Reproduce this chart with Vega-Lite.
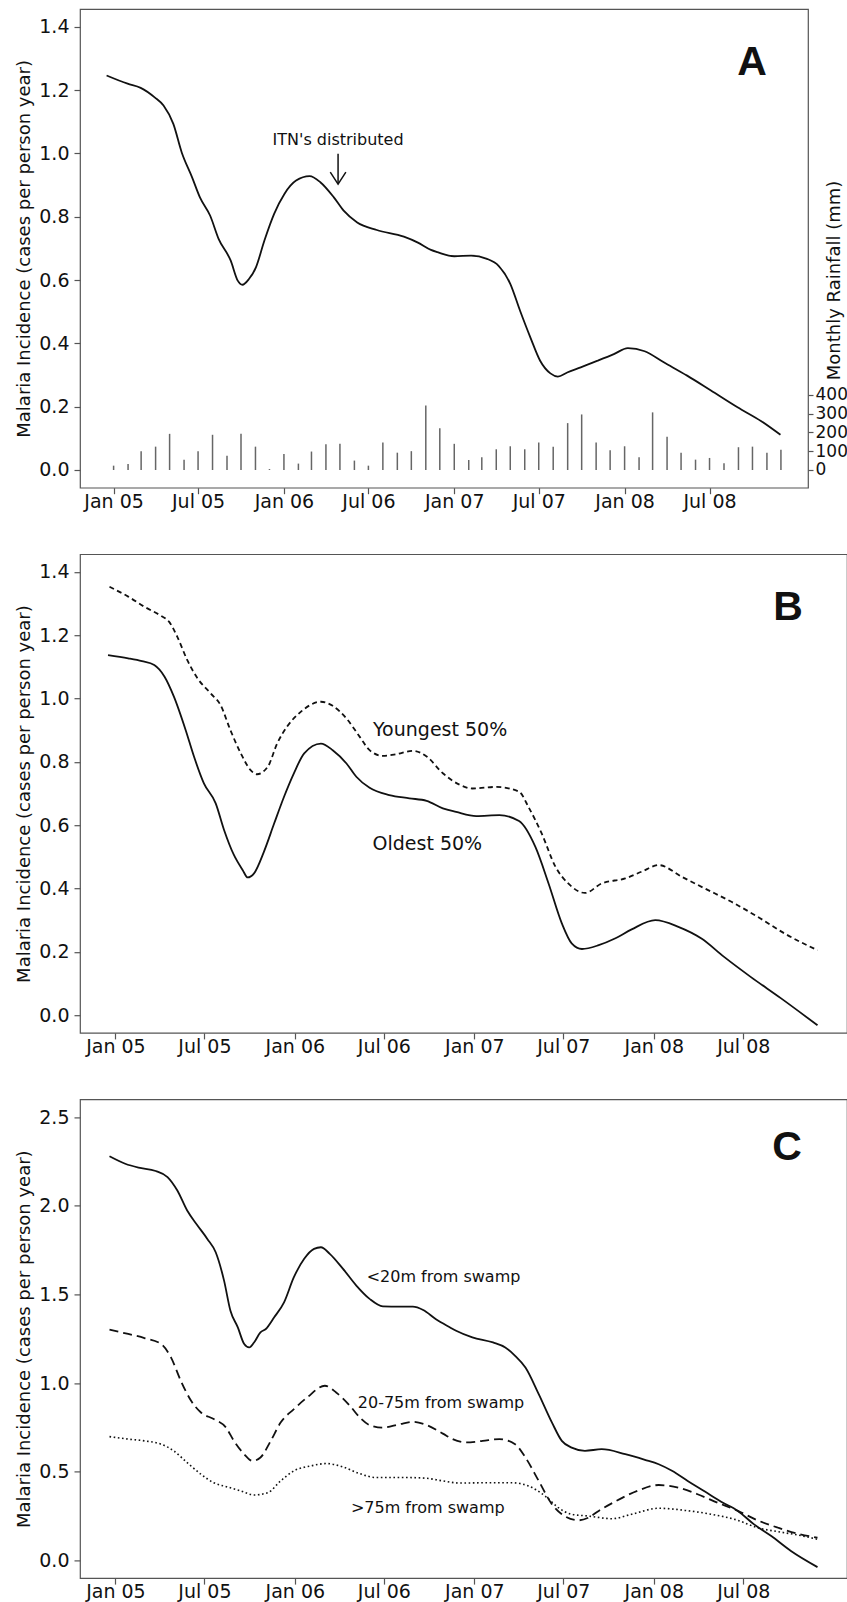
{
  "$schema": "https://vega.github.io/schema/vega-lite/v6.json",
  "padding": {"top": 8, "left": 14, "right": 0, "bottom": 0},
  "background": "white",
  "config": {
    "view": {"stroke": "#555", "strokeWidth": 1.2},
    "axis": {"labelFont": "DejaVu Sans", "titleFont": "DejaVu Sans", "labelColor": "#111", "titleColor": "#111", "titleFontWeight": "normal", "tickColor": "#555", "tickWidth": 1.2, "domain": false, "grid": false},
    "text": {"font": "DejaVu Sans", "color": "#111"}
  },
  "datasets": {
    "rain": [
      {"date":"2005-01-01","mm":23},{"date":"2005-02-01","mm":32},{"date":"2005-03-01","mm":100},{"date":"2005-04-01","mm":124},{"date":"2005-05-01","mm":192},{"date":"2005-06-01","mm":55},{"date":"2005-07-01","mm":100},{"date":"2005-08-01","mm":187},{"date":"2005-09-01","mm":76},{"date":"2005-10-01","mm":192},{"date":"2005-11-01","mm":124},{"date":"2005-12-01","mm":5},
      {"date":"2006-01-01","mm":85},{"date":"2006-02-01","mm":34},{"date":"2006-03-01","mm":98},{"date":"2006-04-01","mm":137},{"date":"2006-05-01","mm":139},{"date":"2006-06-01","mm":50},{"date":"2006-07-01","mm":23},{"date":"2006-08-01","mm":146},{"date":"2006-09-01","mm":92},{"date":"2006-10-01","mm":100},{"date":"2006-11-01","mm":343},{"date":"2006-12-01","mm":222},
      {"date":"2007-01-01","mm":139},{"date":"2007-02-01","mm":53},{"date":"2007-03-01","mm":68},{"date":"2007-04-01","mm":110},{"date":"2007-05-01","mm":126},{"date":"2007-06-01","mm":110},{"date":"2007-07-01","mm":146},{"date":"2007-08-01","mm":124},{"date":"2007-09-01","mm":249},{"date":"2007-10-01","mm":295},{"date":"2007-11-01","mm":146},{"date":"2007-12-01","mm":105},
      {"date":"2008-01-01","mm":126},{"date":"2008-02-01","mm":68},{"date":"2008-03-01","mm":306},{"date":"2008-04-01","mm":176},{"date":"2008-05-01","mm":92},{"date":"2008-06-01","mm":55},{"date":"2008-07-01","mm":64},{"date":"2008-08-01","mm":36},{"date":"2008-09-01","mm":121},{"date":"2008-10-01","mm":124},{"date":"2008-11-01","mm":92},{"date":"2008-12-01","mm":107}
    ],
    "incA": [
      {"date":"2004-12-17","v":1.246},{"date":"2005-01-31","v":1.22},{"date":"2005-02-28","v":1.207},{"date":"2005-03-30","v":1.177},{"date":"2005-04-18","v":1.151},{"date":"2005-05-09","v":1.093},{"date":"2005-05-27","v":1.003},{"date":"2005-06-18","v":0.925},{"date":"2005-07-05","v":0.861},{"date":"2005-07-27","v":0.803},{"date":"2005-08-14","v":0.73},{"date":"2005-09-09","v":0.661},{"date":"2005-09-24","v":0.598},{"date":"2005-10-04","v":0.585},{"date":"2005-10-18","v":0.603},{"date":"2005-11-02","v":0.64},{"date":"2005-11-20","v":0.724},{"date":"2005-12-11","v":0.809},{"date":"2006-01-02","v":0.872},{"date":"2006-01-27","v":0.914},{"date":"2006-02-25","v":0.928},{"date":"2006-03-20","v":0.909},{"date":"2006-04-18","v":0.861},{"date":"2006-05-09","v":0.819},{"date":"2006-06-07","v":0.782},{"date":"2006-07-19","v":0.758},{"date":"2006-09-15","v":0.737},{"date":"2006-10-14","v":0.719},{"date":"2006-11-12","v":0.695},{"date":"2006-11-26","v":0.688},{"date":"2007-01-01","v":0.675},{"date":"2007-02-06","v":0.677},{"date":"2007-03-12","v":0.667},{"date":"2007-04-06","v":0.645},{"date":"2007-05-01","v":0.588},{"date":"2007-05-22","v":0.503},{"date":"2007-06-13","v":0.419},{"date":"2007-07-04","v":0.345},{"date":"2007-07-26","v":0.305},{"date":"2007-08-11","v":0.295},{"date":"2007-08-31","v":0.308},{"date":"2007-09-29","v":0.324},{"date":"2007-11-04","v":0.345},{"date":"2007-12-09","v":0.366},{"date":"2008-01-08","v":0.385},{"date":"2008-02-13","v":0.375},{"date":"2008-03-25","v":0.34},{"date":"2008-05-14","v":0.298},{"date":"2008-07-04","v":0.251},{"date":"2008-08-30","v":0.198},{"date":"2008-10-20","v":0.154},{"date":"2008-11-30","v":0.111}
    ],
    "incB": [
      {"g":"Oldest","date":"2004-12-17","v":1.137},{"g":"Oldest","date":"2005-01-27","v":1.127},{"g":"Oldest","date":"2005-02-24","v":1.118},{"g":"Oldest","date":"2005-03-21","v":1.106},{"g":"Oldest","date":"2005-04-11","v":1.069},{"g":"Oldest","date":"2005-04-30","v":1.006},{"g":"Oldest","date":"2005-05-24","v":0.9},{"g":"Oldest","date":"2005-06-10","v":0.816},{"g":"Oldest","date":"2005-06-30","v":0.732},{"g":"Oldest","date":"2005-07-24","v":0.669},{"g":"Oldest","date":"2005-08-10","v":0.585},{"g":"Oldest","date":"2005-08-30","v":0.506},{"g":"Oldest","date":"2005-09-17","v":0.458},{"g":"Oldest","date":"2005-09-27","v":0.435},{"g":"Oldest","date":"2005-10-10","v":0.448},{"g":"Oldest","date":"2005-10-30","v":0.516},{"g":"Oldest","date":"2005-11-20","v":0.606},{"g":"Oldest","date":"2005-12-10","v":0.69},{"g":"Oldest","date":"2005-12-30","v":0.764},{"g":"Oldest","date":"2006-01-20","v":0.827},{"g":"Oldest","date":"2006-02-23","v":0.858},{"g":"Oldest","date":"2006-03-19","v":0.837},{"g":"Oldest","date":"2006-04-16","v":0.795},{"g":"Oldest","date":"2006-05-06","v":0.753},{"g":"Oldest","date":"2006-06-02","v":0.718},{"g":"Oldest","date":"2006-07-12","v":0.695},{"g":"Oldest","date":"2006-08-22","v":0.685},{"g":"Oldest","date":"2006-09-26","v":0.677},{"g":"Oldest","date":"2006-10-29","v":0.653},{"g":"Oldest","date":"2006-11-25","v":0.642},{"g":"Oldest","date":"2007-01-05","v":0.629},{"g":"Oldest","date":"2007-02-21","v":0.632},{"g":"Oldest","date":"2007-04-02","v":0.613},{"g":"Oldest","date":"2007-05-05","v":0.532},{"g":"Oldest","date":"2007-06-01","v":0.416},{"g":"Oldest","date":"2007-06-28","v":0.29},{"g":"Oldest","date":"2007-07-18","v":0.227},{"g":"Oldest","date":"2007-08-08","v":0.209},{"g":"Oldest","date":"2007-09-11","v":0.221},{"g":"Oldest","date":"2007-10-14","v":0.242},{"g":"Oldest","date":"2007-11-17","v":0.271},{"g":"Oldest","date":"2008-01-04","v":0.3},{"g":"Oldest","date":"2008-02-20","v":0.279},{"g":"Oldest","date":"2008-04-07","v":0.242},{"g":"Oldest","date":"2008-05-23","v":0.184},{"g":"Oldest","date":"2008-07-16","v":0.121},{"g":"Oldest","date":"2008-09-16","v":0.053},{"g":"Oldest","date":"2008-11-29","v":-0.032},
      {"g":"Youngest","date":"2004-12-20","v":1.353},{"g":"Youngest","date":"2005-01-27","v":1.322},{"g":"Youngest","date":"2005-03-01","v":1.29},{"g":"Youngest","date":"2005-04-04","v":1.261},{"g":"Youngest","date":"2005-04-20","v":1.243},{"g":"Youngest","date":"2005-05-07","v":1.195},{"g":"Youngest","date":"2005-05-27","v":1.122},{"g":"Youngest","date":"2005-06-17","v":1.064},{"g":"Youngest","date":"2005-07-14","v":1.016},{"g":"Youngest","date":"2005-08-03","v":0.979},{"g":"Youngest","date":"2005-08-23","v":0.9},{"g":"Youngest","date":"2005-09-13","v":0.827},{"g":"Youngest","date":"2005-10-03","v":0.774},{"g":"Youngest","date":"2005-10-16","v":0.761},{"g":"Youngest","date":"2005-11-07","v":0.785},{"g":"Youngest","date":"2005-11-26","v":0.858},{"g":"Youngest","date":"2005-12-16","v":0.911},{"g":"Youngest","date":"2006-01-13","v":0.958},{"g":"Youngest","date":"2006-02-23","v":0.99},{"g":"Youngest","date":"2006-03-19","v":0.977},{"g":"Youngest","date":"2006-04-16","v":0.937},{"g":"Youngest","date":"2006-05-13","v":0.879},{"g":"Youngest","date":"2006-06-02","v":0.837},{"g":"Youngest","date":"2006-06-29","v":0.819},{"g":"Youngest","date":"2006-07-26","v":0.824},{"g":"Youngest","date":"2006-08-29","v":0.835},{"g":"Youngest","date":"2006-09-26","v":0.817},{"g":"Youngest","date":"2006-10-29","v":0.764},{"g":"Youngest","date":"2006-12-02","v":0.728},{"g":"Youngest","date":"2006-12-28","v":0.716},{"g":"Youngest","date":"2007-02-15","v":0.721},{"g":"Youngest","date":"2007-04-02","v":0.706},{"g":"Youngest","date":"2007-04-21","v":0.658},{"g":"Youngest","date":"2007-05-18","v":0.574},{"g":"Youngest","date":"2007-06-15","v":0.469},{"g":"Youngest","date":"2007-07-11","v":0.416},{"g":"Youngest","date":"2007-08-14","v":0.386},{"g":"Youngest","date":"2007-09-17","v":0.416},{"g":"Youngest","date":"2007-11-04","v":0.432},{"g":"Youngest","date":"2007-12-07","v":0.453},{"g":"Youngest","date":"2008-01-11","v":0.474},{"g":"Youngest","date":"2008-02-27","v":0.437},{"g":"Youngest","date":"2008-04-14","v":0.4},{"g":"Youngest","date":"2008-06-07","v":0.358},{"g":"Youngest","date":"2008-07-30","v":0.311},{"g":"Youngest","date":"2008-09-23","v":0.258},{"g":"Youngest","date":"2008-11-29","v":0.205}
    ],
    "incC": [
      {"g":"near","date":"2004-12-20","v":2.279},{"g":"near","date":"2005-01-21","v":2.237},{"g":"near","date":"2005-02-17","v":2.215},{"g":"near","date":"2005-03-24","v":2.196},{"g":"near","date":"2005-04-17","v":2.162},{"g":"near","date":"2005-05-07","v":2.086},{"g":"near","date":"2005-05-27","v":1.973},{"g":"near","date":"2005-06-17","v":1.889},{"g":"near","date":"2005-07-07","v":1.813},{"g":"near","date":"2005-07-24","v":1.738},{"g":"near","date":"2005-08-10","v":1.578},{"g":"near","date":"2005-08-23","v":1.408},{"g":"near","date":"2005-09-07","v":1.314},{"g":"near","date":"2005-09-20","v":1.22},{"g":"near","date":"2005-09-30","v":1.201},{"g":"near","date":"2005-10-10","v":1.229},{"g":"near","date":"2005-10-23","v":1.286},{"g":"near","date":"2005-11-03","v":1.305},{"g":"near","date":"2005-11-20","v":1.371},{"g":"near","date":"2005-12-10","v":1.455},{"g":"near","date":"2005-12-30","v":1.597},{"g":"near","date":"2006-01-20","v":1.701},{"g":"near","date":"2006-02-09","v":1.757},{"g":"near","date":"2006-02-23","v":1.766},{"g":"near","date":"2006-03-13","v":1.729},{"g":"near","date":"2006-04-09","v":1.644},{"g":"near","date":"2006-05-06","v":1.55},{"g":"near","date":"2006-06-02","v":1.475},{"g":"near","date":"2006-06-29","v":1.433},{"g":"near","date":"2006-08-02","v":1.431},{"g":"near","date":"2006-08-29","v":1.431},{"g":"near","date":"2006-09-19","v":1.412},{"g":"near","date":"2006-10-15","v":1.36},{"g":"near","date":"2006-11-12","v":1.315},{"g":"near","date":"2006-11-25","v":1.295},{"g":"near","date":"2006-12-28","v":1.258},{"g":"near","date":"2007-02-08","v":1.229},{"g":"near","date":"2007-03-05","v":1.201},{"g":"near","date":"2007-03-25","v":1.154},{"g":"near","date":"2007-04-15","v":1.088},{"g":"near","date":"2007-05-12","v":0.938},{"g":"near","date":"2007-06-08","v":0.777},{"g":"near","date":"2007-06-28","v":0.674},{"g":"near","date":"2007-07-18","v":0.636},{"g":"near","date":"2007-08-14","v":0.618},{"g":"near","date":"2007-09-17","v":0.627},{"g":"near","date":"2007-11-04","v":0.599},{"g":"near","date":"2007-12-14","v":0.567},{"g":"near","date":"2008-01-11","v":0.542},{"g":"near","date":"2008-02-07","v":0.505},{"g":"near","date":"2008-03-10","v":0.448},{"g":"near","date":"2008-04-14","v":0.388},{"g":"near","date":"2008-05-17","v":0.331},{"g":"near","date":"2008-06-20","v":0.279},{"g":"near","date":"2008-07-23","v":0.203},{"g":"near","date":"2008-08-27","v":0.137},{"g":"near","date":"2008-10-06","v":0.053},{"g":"near","date":"2008-11-29","v":-0.038},
      {"g":"mid","date":"2004-12-20","v":1.301},{"g":"mid","date":"2005-01-27","v":1.277},{"g":"mid","date":"2005-03-01","v":1.254},{"g":"mid","date":"2005-04-04","v":1.22},{"g":"mid","date":"2005-04-24","v":1.145},{"g":"mid","date":"2005-05-14","v":1.013},{"g":"mid","date":"2005-06-04","v":0.9},{"g":"mid","date":"2005-06-24","v":0.834},{"g":"mid","date":"2005-07-20","v":0.797},{"g":"mid","date":"2005-08-14","v":0.749},{"g":"mid","date":"2005-08-30","v":0.674},{"g":"mid","date":"2005-09-20","v":0.599},{"g":"mid","date":"2005-10-07","v":0.561},{"g":"mid","date":"2005-10-23","v":0.58},{"g":"mid","date":"2005-11-13","v":0.674},{"g":"mid","date":"2005-12-03","v":0.777},{"g":"mid","date":"2005-12-30","v":0.853},{"g":"mid","date":"2006-01-26","v":0.919},{"g":"mid","date":"2006-03-03","v":0.985},{"g":"mid","date":"2006-03-26","v":0.947},{"g":"mid","date":"2006-04-23","v":0.872},{"g":"mid","date":"2006-05-13","v":0.806},{"g":"mid","date":"2006-06-02","v":0.763},{"g":"mid","date":"2006-06-29","v":0.749},{"g":"mid","date":"2006-08-02","v":0.768},{"g":"mid","date":"2006-08-29","v":0.781},{"g":"mid","date":"2006-09-26","v":0.763},{"g":"mid","date":"2006-10-29","v":0.715},{"g":"mid","date":"2006-11-18","v":0.684},{"g":"mid","date":"2006-12-15","v":0.665},{"g":"mid","date":"2007-01-18","v":0.674},{"g":"mid","date":"2007-02-21","v":0.684},{"g":"mid","date":"2007-03-25","v":0.655},{"g":"mid","date":"2007-04-15","v":0.58},{"g":"mid","date":"2007-05-12","v":0.448},{"g":"mid","date":"2007-06-08","v":0.316},{"g":"mid","date":"2007-06-28","v":0.26},{"g":"mid","date":"2007-08-01","v":0.226},{"g":"mid","date":"2007-08-21","v":0.241},{"g":"mid","date":"2007-09-11","v":0.279},{"g":"mid","date":"2007-10-14","v":0.331},{"g":"mid","date":"2007-12-01","v":0.395},{"g":"mid","date":"2008-01-11","v":0.425},{"g":"mid","date":"2008-02-20","v":0.41},{"g":"mid","date":"2008-03-30","v":0.373},{"g":"mid","date":"2008-05-10","v":0.325},{"g":"mid","date":"2008-06-20","v":0.279},{"g":"mid","date":"2008-07-30","v":0.226},{"g":"mid","date":"2008-09-10","v":0.184},{"g":"mid","date":"2008-10-20","v":0.15},{"g":"mid","date":"2008-11-29","v":0.128},
      {"g":"far","date":"2004-12-20","v":0.698},{"g":"far","date":"2005-01-27","v":0.684},{"g":"far","date":"2005-03-01","v":0.674},{"g":"far","date":"2005-04-04","v":0.655},{"g":"far","date":"2005-04-30","v":0.617},{"g":"far","date":"2005-05-27","v":0.551},{"g":"far","date":"2005-06-24","v":0.486},{"g":"far","date":"2005-07-20","v":0.438},{"g":"far","date":"2005-08-17","v":0.414},{"g":"far","date":"2005-09-13","v":0.392},{"g":"far","date":"2005-10-10","v":0.369},{"g":"far","date":"2005-11-07","v":0.382},{"g":"far","date":"2005-12-03","v":0.448},{"g":"far","date":"2005-12-30","v":0.505},{"g":"far","date":"2006-02-03","v":0.533},{"g":"far","date":"2006-03-06","v":0.546},{"g":"far","date":"2006-04-09","v":0.527},{"g":"far","date":"2006-05-13","v":0.489},{"g":"far","date":"2006-06-16","v":0.467},{"g":"far","date":"2006-08-22","v":0.467},{"g":"far","date":"2006-09-26","v":0.463},{"g":"far","date":"2006-10-29","v":0.448},{"g":"far","date":"2006-12-02","v":0.436},{"g":"far","date":"2007-02-01","v":0.438},{"g":"far","date":"2007-03-18","v":0.438},{"g":"far","date":"2007-04-21","v":0.42},{"g":"far","date":"2007-05-25","v":0.363},{"g":"far","date":"2007-06-21","v":0.297},{"g":"far","date":"2007-07-18","v":0.26},{"g":"far","date":"2007-08-21","v":0.25},{"g":"far","date":"2007-10-08","v":0.235},{"g":"far","date":"2007-11-17","v":0.26},{"g":"far","date":"2008-01-11","v":0.294},{"g":"far","date":"2008-03-04","v":0.282},{"g":"far","date":"2008-04-27","v":0.26},{"g":"far","date":"2008-06-20","v":0.226},{"g":"far","date":"2008-07-30","v":0.184},{"g":"far","date":"2008-09-10","v":0.162},{"g":"far","date":"2008-10-20","v":0.143},{"g":"far","date":"2008-11-29","v":0.119}
    ]
  },
  "vconcat": [
    {
      "width": 728,
      "height": 478.7,
      "layer": [
        {
          "data": {"name": "rain"},
          "mark": {"type": "rule", "color": "#666", "strokeWidth": 1.5},
          "encoding": {
            "x": {"field": "date", "type": "temporal",
                  "scale": {"domain": [{"year":2004,"month":10,"date":21},{"year":2009,"month":1,"date":28}], "nice": false},
                  "axis": {"values": [{"year":2005,"month":1,"date":1},{"year":2005,"month":7,"date":1},{"year":2006,"month":1,"date":1},{"year":2006,"month":7,"date":1},{"year":2007,"month":1,"date":1},{"year":2007,"month":7,"date":1},{"year":2008,"month":1,"date":1},{"year":2008,"month":7,"date":1}],
                           "format": "%b %y", "title": null, "labelFontSize": 19, "tickSize": 6, "labelPadding": -1.5, "labelOverlap": false, "labelFlush": false}},
            "y": {"field": "mm", "type": "quantitative",
                  "scale": {"domain": [-94, 2448], "nice": false, "zero": false},
                  "axis": {"orient": "right", "values": [0,100,200,300,400], "labelFontSize": 17, "tickSize": 5, "labelPadding": 2, "labelOverlap": false, "labelFlush": false,
                           "title": "Monthly Rainfall (mm)", "titleFontSize": 18, "titleAngle": 270, "titleX": 31, "titleY": 271, "titleBaseline": "alphabetic", "titleAlign": "center"}},
            "y2": {"datum": 0}
          }
        },
        {
          "data": {"name": "incA"},
          "mark": {"type": "line", "color": "#111", "strokeWidth": 1.8, "interpolate": "monotone"},
          "encoding": {
            "x": {"field": "date", "type": "temporal"},
            "y": {"field": "v", "type": "quantitative",
                  "scale": {"domain": [-0.056, 1.456], "nice": false, "zero": false},
                  "axis": {"orient": "left", "values": [0,0.2,0.4,0.6,0.8,1.0,1.2,1.4], "format": ".1f", "labelFontSize": 19, "tickSize": 6, "labelPadding": 5,
                           "title": "Malaria Incidence (cases per person year)", "titleFontSize": 18, "titleAngle": 270, "titleX": -51, "titleBaseline": "alphabetic", "titleAlign": "center"}}
          }
        },
        {
          "data": {"values": [{"date": "2006-04-27", "v": 1.028, "label": "ITN's distributed"}]},
          "mark": {"type": "text", "fontSize": 16, "align": "center", "baseline": "alphabetic"},
          "encoding": {
            "x": {"field": "date", "type": "temporal"},
            "y": {"field": "v", "type": "quantitative", "scale": {"domain": [-0.056, 1.456], "nice": false, "zero": false}, "axis": null},
            "text": {"field": "label"}
          }
        },
        {
          "data": {"values": [{"date": "2006-04-27", "v": 0.999, "v2": 0.903}]},
          "mark": {"type": "rule", "color": "#111", "strokeWidth": 1.5},
          "encoding": {
            "x": {"field": "date", "type": "temporal"},
            "y": {"field": "v", "type": "quantitative", "scale": {"domain": [-0.056, 1.456], "nice": false, "zero": false}, "axis": null},
            "y2": {"field": "v2"}
          }
        },
        {
          "data": {"values": [{"date": "2006-04-27", "v": 0.903}]},
          "mark": {"type": "point", "shape": "M -0.65 -1 L 0 0 L 0.65 -1", "filled": false, "stroke": "#111", "strokeWidth": 1.5, "size": 576, "opacity": 1},
          "encoding": {
            "x": {"field": "date", "type": "temporal"},
            "y": {"field": "v", "type": "quantitative", "scale": {"domain": [-0.056, 1.456], "nice": false, "zero": false}, "axis": null}
          }
        },
        {
          "data": {"values": [{"date": "2008-09-30", "v": 1.246, "label": "A"}]},
          "mark": {"type": "text", "font": "Liberation Sans", "fontWeight": "bold", "fontSize": 41, "align": "center", "baseline": "alphabetic"},
          "encoding": {
            "x": {"field": "date", "type": "temporal"},
            "y": {"field": "v", "type": "quantitative", "scale": {"domain": [-0.056, 1.456], "nice": false, "zero": false}, "axis": null},
            "text": {"field": "label"}
          }
        }
      ],
      "resolve": {"scale": {"y": "independent"}}
    },
    {
      "width": 767,
      "height": 478.7,
      "layer": [
        {
          "data": {"name": "incB"},
          "transform": [{"filter": "datum.g === 'Oldest'"}],
          "mark": {"type": "line", "color": "#111", "strokeWidth": 1.8, "interpolate": "monotone"},
          "encoding": {
            "x": {"field": "date", "type": "temporal",
                  "scale": {"domain": [{"year":2004,"month":10,"date":21},{"year":2009,"month":1,"date":28}], "nice": false},
                  "axis": {"values": [{"year":2005,"month":1,"date":1},{"year":2005,"month":7,"date":1},{"year":2006,"month":1,"date":1},{"year":2006,"month":7,"date":1},{"year":2007,"month":1,"date":1},{"year":2007,"month":7,"date":1},{"year":2008,"month":1,"date":1},{"year":2008,"month":7,"date":1}],
                           "format": "%b %y", "title": null, "labelFontSize": 19, "tickSize": 6, "labelPadding": -1.5, "labelOverlap": false, "labelFlush": false}},
            "y": {"field": "v", "type": "quantitative",
                  "scale": {"domain": [-0.056, 1.456], "nice": false, "zero": false},
                  "axis": {"orient": "left", "values": [0,0.2,0.4,0.6,0.8,1.0,1.2,1.4], "format": ".1f", "labelFontSize": 19, "tickSize": 6, "labelPadding": 5,
                           "title": "Malaria Incidence (cases per person year)", "titleFontSize": 18, "titleAngle": 270, "titleX": -51, "titleBaseline": "alphabetic", "titleAlign": "center"}}
          }
        },
        {
          "data": {"name": "incB"},
          "transform": [{"filter": "datum.g === 'Youngest'"}],
          "mark": {"type": "line", "color": "#111", "strokeWidth": 1.8, "interpolate": "monotone", "strokeDash": [5, 3.5]},
          "encoding": {
            "x": {"field": "date", "type": "temporal"},
            "y": {"field": "v", "type": "quantitative"}
          }
        },
        {
          "data": {"values": [
            {"date": "2006-06-09", "v": 0.881, "label": "Youngest 50%"},
            {"date": "2006-06-08", "v": 0.521, "label": "Oldest 50%"}
          ]},
          "mark": {"type": "text", "fontSize": 19, "align": "left", "baseline": "alphabetic"},
          "encoding": {
            "x": {"field": "date", "type": "temporal"},
            "y": {"field": "v", "type": "quantitative"},
            "text": {"field": "label"}
          }
        },
        {
          "data": {"values": [{"date": "2008-09-30", "v": 1.248, "label": "B"}]},
          "mark": {"type": "text", "font": "Liberation Sans", "fontWeight": "bold", "fontSize": 41, "align": "center", "baseline": "alphabetic"},
          "encoding": {
            "x": {"field": "date", "type": "temporal"},
            "y": {"field": "v", "type": "quantitative"},
            "text": {"field": "label"}
          }
        }
      ]
    },
    {
      "width": 767,
      "height": 478.7,
      "layer": [
        {
          "data": {"name": "incC"},
          "transform": [{"filter": "datum.g === 'near'"}],
          "mark": {"type": "line", "color": "#111", "strokeWidth": 1.8, "interpolate": "monotone"},
          "encoding": {
            "x": {"field": "date", "type": "temporal",
                  "scale": {"domain": [{"year":2004,"month":10,"date":21},{"year":2009,"month":1,"date":28}], "nice": false},
                  "axis": {"values": [{"year":2005,"month":1,"date":1},{"year":2005,"month":7,"date":1},{"year":2006,"month":1,"date":1},{"year":2006,"month":7,"date":1},{"year":2007,"month":1,"date":1},{"year":2007,"month":7,"date":1},{"year":2008,"month":1,"date":1},{"year":2008,"month":7,"date":1}],
                           "format": "%b %y", "title": null, "labelFontSize": 19, "tickSize": 6, "labelPadding": -1.5, "labelOverlap": false, "labelFlush": false}},
            "y": {"field": "v", "type": "quantitative",
                  "scale": {"domain": [-0.1, 2.6], "nice": false, "zero": false},
                  "axis": {"orient": "left", "values": [0,0.5,1.0,1.5,2.0,2.5], "format": ".1f", "labelFontSize": 19, "tickSize": 6, "labelPadding": 5,
                           "title": "Malaria Incidence (cases per person year)", "titleFontSize": 18, "titleAngle": 270, "titleX": -51, "titleBaseline": "alphabetic", "titleAlign": "center"}}
          }
        },
        {
          "data": {"name": "incC"},
          "transform": [{"filter": "datum.g === 'mid'"}],
          "mark": {"type": "line", "color": "#111", "strokeWidth": 1.8, "interpolate": "monotone", "strokeDash": [9, 5]},
          "encoding": {
            "x": {"field": "date", "type": "temporal"},
            "y": {"field": "v", "type": "quantitative"}
          }
        },
        {
          "data": {"name": "incC"},
          "transform": [{"filter": "datum.g === 'far'"}],
          "mark": {"type": "line", "color": "#111", "strokeWidth": 1.6, "interpolate": "monotone", "strokeDash": [1.6, 2.6]},
          "encoding": {
            "x": {"field": "date", "type": "temporal"},
            "y": {"field": "v", "type": "quantitative"}
          }
        },
        {
          "data": {"values": [
            {"date": "2006-05-27", "v": 1.568, "label": "<20m from swamp"},
            {"date": "2006-05-09", "v": 0.862, "label": "20-75m from swamp"},
            {"date": "2006-04-25", "v": 0.269, "label": ">75m from swamp"}
          ]},
          "mark": {"type": "text", "fontSize": 16, "align": "left", "baseline": "alphabetic"},
          "encoding": {
            "x": {"field": "date", "type": "temporal"},
            "y": {"field": "v", "type": "quantitative"},
            "text": {"field": "label"}
          }
        },
        {
          "data": {"values": [{"date": "2008-09-28", "v": 2.256, "label": "C"}]},
          "mark": {"type": "text", "font": "Liberation Sans", "fontWeight": "bold", "fontSize": 41, "align": "center", "baseline": "alphabetic"},
          "encoding": {
            "x": {"field": "date", "type": "temporal"},
            "y": {"field": "v", "type": "quantitative"},
            "text": {"field": "label"}
          }
        }
      ]
    }
  ],
  "spacing": 66.2,
  "bounds": "flush"
}
